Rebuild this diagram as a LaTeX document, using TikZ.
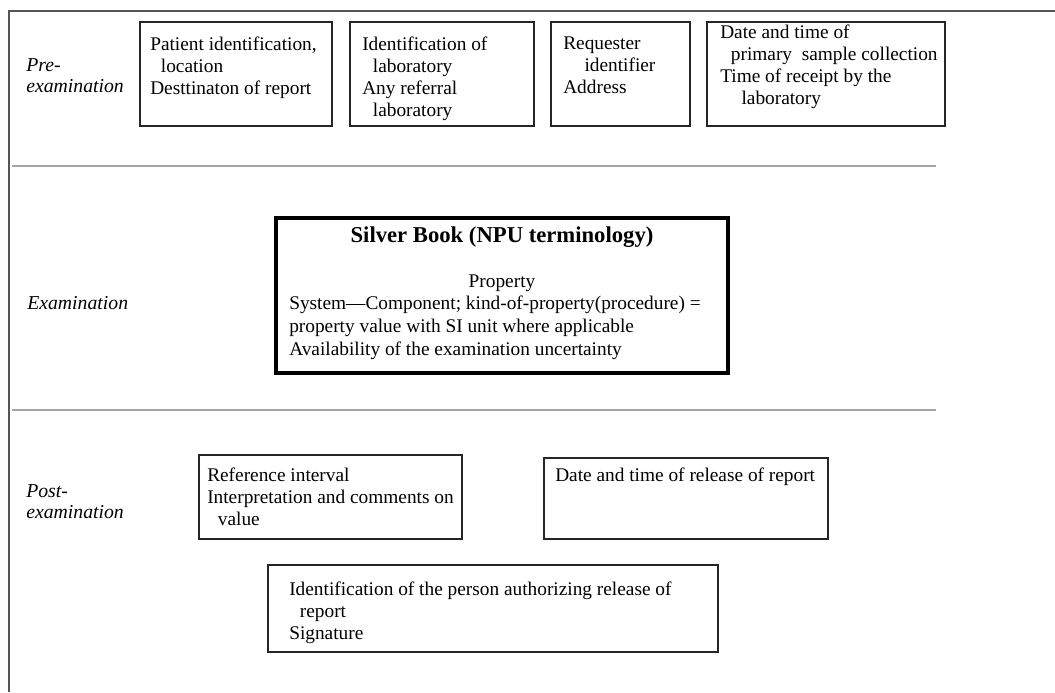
\documentclass[tikz,border=0pt]{standalone}
\usepackage{fontspec}
\setmainfont{Liberation Serif}
\definecolor{frame}{RGB}{85,85,85}
\definecolor{rule}{RGB}{165,165,165}
\newcommand{\ind}{\hspace*{0.55em}}

\begin{document}
\begin{tikzpicture}[x=0.75pt,y=-0.75pt,
  box/.style={draw=black!85,line width=1.4pt},
  txt/.style={anchor=north west,align=left,inner sep=0pt,font=\fontsize{14.5}{16.4}\selectfont},
  lab/.style={anchor=north west,align=left,inner sep=0pt,font=\fontsize{14.8}{15.8}\selectfont\itshape}]
  \useasboundingbox (0,0) rectangle (1055,692);
  \draw[frame,line width=2pt] (9,692) -- (9,11) -- (1055,11);
  \foreach \y in {166,410}{\draw[rule,line width=1.8pt] (12,\y) -- (936,\y);}
  % pre-examination
  \node[lab] (pre) at (26,58) {Pre-\\examination};
  \foreach \a/\b in {140/332,350/534,551/690,707/945}{\draw[box] (\a,22) rectangle (\b,126);}
  \node[txt] (pid) at (150,37) {Patient identification,\\\ind location\\Desttinaton of report};
  \node[txt] (labid) at (362,37) {Identification of\\\ind laboratory\\Any referral\\\ind laboratory};
  \node[txt] (req) at (563,37) {Requester\\\ind\ind identifier\\Address};
  \node[txt] (coll) at (720,25) {Date and time of\\\ind primary\ \ sample collection\\Time of receipt by the\\\ind\ind laboratory};
  % examination
  \node[lab] (exa) at (27,296) {Examination};
  \draw[line width=3pt] (276,218) rectangle (728,373);
  \node[font=\fontsize{17}{20}\selectfont\bfseries] (npu) at (502,237) {Silver Book (NPU terminology)};
  \node[txt,anchor=center] (prop) at (502,283) {Property};
  \node[txt,font=\fontsize{14.5}{17.2}\selectfont] (sys) at (289,296) {System—Component; kind-of-property(procedure) =\\property value with SI unit where applicable\\Availability of the examination uncertainty};
  % post-examination
  \node[lab] (post) at (26,484) {Post-\\examination};
  \draw[box] (199,455) rectangle (462,539);
  \node[txt] (refint) at (207,468) {Reference interval\\Interpretation and comments on\\\ind value};
  \draw[box] (544,458) rectangle (828,539);
  \node[txt] (rel) at (555,468) {Date and time of release of report};
  \draw[box] (268,565) rectangle (718,652);
  \node[txt] (sig) at (289,582) {Identification of the person authorizing release of\\\ind report\\Signature};
\end{tikzpicture}
\end{document}
